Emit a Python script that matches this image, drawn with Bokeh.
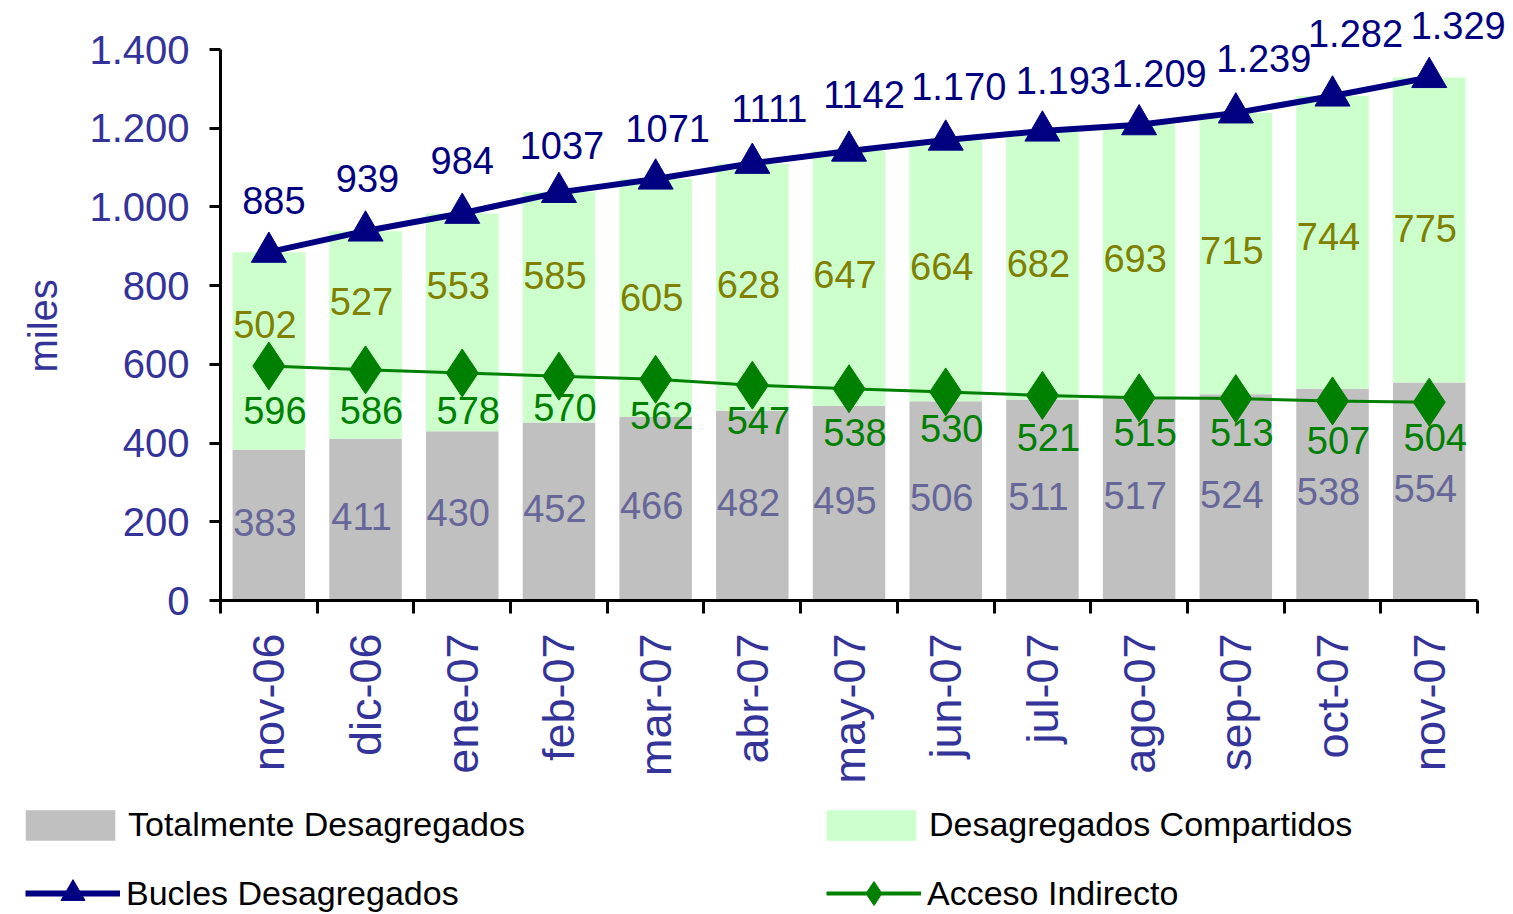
import math
from bokeh.plotting import figure
from bokeh.layouts import column
from bokeh.models import (ColumnDataSource, Range1d, FixedTicker, LinearAxis,
                          LabelSet, Legend, LegendItem, Title)
from bokeh.embed import file_html
from bokeh.resources import INLINE
from bokeh.core.properties import value

# ---------------- data ----------------
categories = ["nov-06", "dic-06", "ene-07", "feb-07", "mar-07", "abr-07", "may-07",
              "jun-07", "jul-07", "ago-07", "sep-07", "oct-07", "nov-07"]
totalmente = [383, 411, 430, 452, 466, 482, 495, 506, 511, 517, 524, 538, 554]
compartidos = [502, 527, 553, 585, 605, 628, 647, 664, 682, 693, 715, 744, 775]
bucles = [885, 939, 984, 1037, 1071, 1111, 1142, 1170, 1193, 1209, 1239, 1282, 1329]
bucles_labels = ["885", "939", "984", "1037", "1071", "1111", "1142",
                 "1.170", "1.193", "1.209", "1.239", "1.282", "1.329"]
acceso = [596, 586, 578, 570, 562, 547, 538, 530, 521, 515, 513, 507, 504]
y_ticks = [0, 200, 400, 600, 800, 1000, 1200, 1400]
y_tick_labels = ["0", "200", "400", "600", "800", "1.000", "1.200", "1.400"]

# ---------------- label placement (style) ----------------
bucles_xoff = [5, 2, 0, 3, 12, 17, 15, 13, 21, 20, 28, 23, 29]
bucles_yoff = [52, 52, 53, 47, 50, 55, 57, 54, 50, 51, 54, 62, 52]
acceso_yoff = [-45, -41, -37, -31, -36, -35, -44, -37, -42, -35, -34, -40, -35]
comp_yoff = [26, 34, 37, 32, 1, 3, 4, 4, 2, 2, 3, 6, 1]

FONT = "Liberation Sans"
AXIS_COLOR = "#333399"
NAVY = "#000080"
GREEN = "#008000"
OLIVE = "#808000"
GRAYLBL = "#666699"
GRAYBAR = "#C0C0C0"
LGREEN = "#CCFFCC"

n = len(categories)
xs = list(range(n))
stack_top = [t + c for t, c in zip(totalmente, compartidos)]
comp_mid = [t + c / 2 for t, c in zip(totalmente, compartidos)]
tot_mid = [t / 2 for t in totalmente]

src = ColumnDataSource(dict(
    x=xs, tot=totalmente, comp=compartidos, top=stack_top,
    comp_mid=comp_mid, tot_mid=tot_mid,
    bucles=bucles, blabel=bucles_labels, acceso=acceso,
    alabel=[str(v) for v in acceso], clabel=[str(v) for v in compartidos],
    tlabel=[str(v) for v in totalmente],
    bxoff=bucles_xoff, byoff=bucles_yoff, ayoff=acceso_yoff, cyoff=comp_yoff,
))

# main chart: frame spans canvas top (0) to 600 px; value 1400 sits at 49 px.
# frame spans x 218 .. 1513; the category axis itself ends at 1477 px.
P_H = 790
Y_TOP = 1400 * 600 / 551.0
CAT_W = (1477 - 218) / n
X_END = n - 0.5 + (1513 - 1477) / CAT_W
p = figure(width=1513, height=P_H, x_range=Range1d(-0.5, X_END),
           y_range=Range1d(0, Y_TOP), output_backend="svg", toolbar_location=None,
           title=None, x_axis_type=None, y_axis_type=None,
           min_border_left=218, min_border_right=0, min_border_top=0,
           min_border_bottom=P_H - 600)
p.outline_line_color = None
p.background_fill_color = "white"
p.border_fill_color = "white"
p.frame_align = False

# ---------------- axes ----------------
yaxis = LinearAxis(ticker=FixedTicker(ticks=y_ticks, minor_ticks=[]),
                   major_label_overrides={t: l for t, l in zip(y_ticks, y_tick_labels)},
                   bounds=(0, 1400))
yaxis.axis_line_width = 3
yaxis.axis_line_color = "black"
yaxis.major_tick_line_width = 3
yaxis.major_tick_line_color = "black"
yaxis.major_tick_out = 11
yaxis.major_tick_in = 0
yaxis.minor_tick_line_color = None
yaxis.major_label_standoff = 20
yaxis.major_label_text_font = FONT
yaxis.major_label_text_font_size = "40px"
yaxis.major_label_text_color = AXIS_COLOR
p.add_layout(yaxis, "left")

ylabel = Title(text="miles", align="left", offset=228, standoff=40,
               vertical_align="top",
               text_font=FONT, text_font_size="40px", text_font_style="normal",
               text_color=AXIS_COLOR)
p.add_layout(ylabel, "left")

boundaries = [i - 0.5 for i in range(n + 1)]
xaxis = LinearAxis(ticker=FixedTicker(ticks=xs, minor_ticks=boundaries),
                   major_label_overrides={i: c for i, c in zip(xs, categories)},
                   bounds=(-0.5, n - 0.5))
xaxis.axis_line_width = 3
xaxis.axis_line_color = "black"
xaxis.major_tick_line_color = None
xaxis.major_tick_out = 0
xaxis.major_tick_in = 0
xaxis.minor_tick_line_color = "black"
xaxis.minor_tick_line_width = 3
xaxis.minor_tick_out = 13
xaxis.minor_tick_in = 0
xaxis.major_label_orientation = math.pi / 2
xaxis.major_label_standoff = 20
xaxis.major_label_text_font = FONT
xaxis.major_label_text_font_size = "45px"
xaxis.major_label_text_color = AXIS_COLOR
p.add_layout(xaxis, "below")

# ---------------- glyphs ----------------
p.vbar(x="x", width=0.75, bottom=0, top="tot", source=src,
       fill_color=GRAYBAR, line_color=None)
p.vbar(x="x", width=0.75, bottom="tot", top="top", source=src,
       fill_color=LGREEN, line_color=None)
p.line(x="x", y="bucles", source=src, line_width=6, line_color=NAVY)
p.scatter(x="x", y="bucles", source=src, marker="triangle", size=35,
          fill_color=NAVY, line_color=NAVY)
p.line(x="x", y="acceso", source=src, line_width=3, line_color=GREEN)
p.scatter(x="x", y="acceso", source=src, marker="diamond", size=48,
          fill_color=GREEN, line_color=GREEN)

# ---------------- data labels ----------------
common = dict(source=src, text_align="center", text_baseline="middle",
              text_font=value(FONT), text_font_size="38px")
p.add_layout(LabelSet(x="x", y="bucles", text="blabel", x_offset="bxoff",
                      y_offset="byoff", text_color=NAVY, **common))
p.add_layout(LabelSet(x="x", y="comp_mid", text="clabel", x_offset=-4,
                      y_offset="cyoff", text_color=OLIVE, **common))
p.add_layout(LabelSet(x="x", y="acceso", text="alabel", x_offset=6,
                      y_offset="ayoff", text_color=GREEN, **common))
p.add_layout(LabelSet(x="x", y="tot_mid", text="tlabel", x_offset=-4,
                      y_offset=3, text_color=GRAYLBL, **common))

# ---------------- legend strip ----------------
L_H = 914 - P_H
lg = figure(width=1513, height=L_H, x_range=Range1d(0, 1513), y_range=Range1d(0, L_H),
            output_backend="svg", toolbar_location=None, title=None,
            x_axis_type=None, y_axis_type=None,
            min_border_left=0, min_border_right=0, min_border_top=0, min_border_bottom=0)
lg.outline_line_color = None
lg.background_fill_color = "white"
lg.border_fill_color = "white"
lg.frame_align = False

# legend-key renderers: a point kept outside the visible range
key = ColumnDataSource(dict(x=[-5000, -4000], y=[-5000, -5000], b=[-5000, -5000],
                            t=[-4999, -4999]))
k_tot = lg.vbar(x="x", width=1, bottom="b", top="t", source=key,
                fill_color=GRAYBAR, line_color=None)
k_comp = lg.vbar(x="x", width=1, bottom="b", top="t", source=key,
                 fill_color=LGREEN, line_color=None)
k_bl = lg.line(x="x", y="y", source=key, line_width=6, line_color=NAVY)
k_bm = lg.scatter(x="x", y="y", source=key, marker="triangle",
                  fill_color=NAVY, line_color=NAVY)
k_al = lg.line(x="x", y="y", source=key, line_width=4, line_color=GREEN)
k_am = lg.scatter(x="x", y="y", source=key, marker="diamond",
                  fill_color=GREEN, line_color=GREEN)


def make_legend(label, renderers, loc, gw, gh, standoff):
    leg = Legend(items=[LegendItem(label=label, renderers=renderers)],
                 location=loc, orientation="vertical")
    leg.glyph_width = gw
    leg.glyph_height = gh
    leg.padding = 0
    leg.margin = 0
    leg.spacing = 0
    leg.border_line_color = None
    leg.background_fill_alpha = 0
    leg.label_standoff = standoff
    leg.label_text_font = FONT
    leg.label_text_font_size = "34px"
    leg.label_text_color = "black"
    leg.label_height = 20
    return leg


row1_c = 825 - P_H
row2_c = 893 - P_H
lg.add_layout(make_legend("Totalmente Desagregados", [k_tot],
                          (14, L_H - (row1_c + 19)), 112, 38, 2))
lg.add_layout(make_legend("Desagregados Compartidos", [k_comp],
                          (815, L_H - (row1_c + 19)), 112, 38, 2))
lg.add_layout(make_legend("Bucles Desagregados", [k_bl, k_bm],
                          (25, L_H - (row2_c + 30)), 95, 60, 6))
lg.add_layout(make_legend("Acceso Indirecto", [k_al, k_am],
                          (826, L_H - (row2_c + 30)), 95, 60, 6))

layout = column(p, lg, spacing=0)
open("out.html", "w").write(file_html(layout, INLINE))
